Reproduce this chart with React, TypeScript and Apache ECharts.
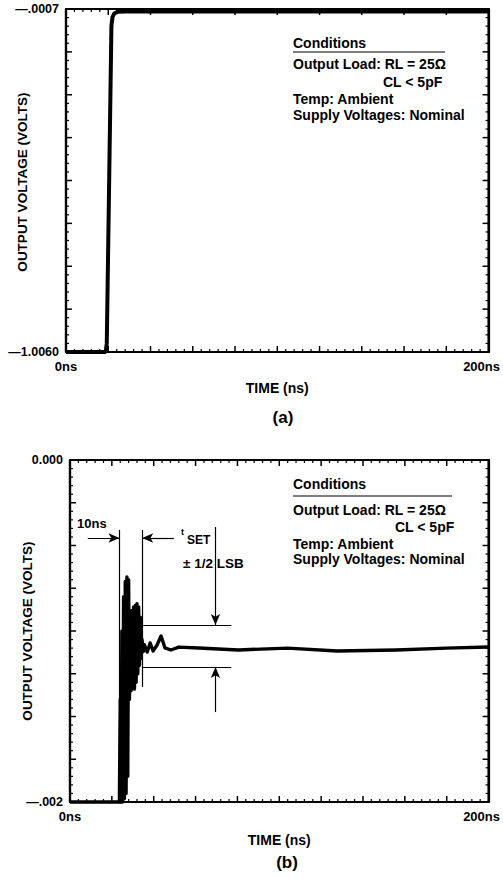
import React, { useEffect, useRef } from "react";
import * as echarts from "echarts";

// ---- Data (a): output voltage step, full scale ----
const timeA = [0, 18.8, 19.3, 21.5, 22.0, 22.8, 24.5, 28, 200];
const voltA = [-1.006, -1.006, -0.98, -0.05, -0.025, -0.014, -0.009, -0.008, -0.008];
const yMinA = -1.006;
const yMaxA = -0.0007;
const yLabelsA = ["—1.0060", "—.0007"];

// ---- Data (b): settling detail ----
const timeB = [
  0, 23.6, 24.0, 24.4, 24.8, 25.2, 25.6, 26.0, 26.4, 26.8, 27.2, 27.6, 28.0, 28.4,
  28.8, 29.2, 29.6, 30.0, 30.4, 30.8, 31.2, 31.6, 32.0, 32.4, 32.8, 33.2, 33.6, 34.0,
  34.4, 35.0, 35.5, 36.9, 38.3, 39.7, 41.6, 43.5, 45.4, 48.2, 52.0, 61.5, 80.4, 104,
  127.7, 156, 179.7, 200,
];
const voltB = [
  -0.002, -0.002, -0.0014, -0.002, -0.001, -0.002, -0.0008, -0.00198, -0.00071, -0.00195,
  -0.000684, -0.00185, -0.0007, -0.0014, -0.0009, -0.00135, -0.00088, -0.00132, -0.00086,
  -0.00134, -0.00085, -0.0013, -0.00084, -0.00125, -0.00086, -0.0012, -0.00092, -0.00116,
  -0.00105, -0.00112, -0.00108, -0.001123, -0.00107, -0.001117, -0.001082, -0.001029,
  -0.001099, -0.001111, -0.001094, -0.001099, -0.001111, -0.0011, -0.001117, -0.001111,
  -0.0011, -0.001094,
];
const yMinB = -0.002;
const yMaxB = 0;
const yLabelsB = ["—.002", "0.000"];

const xMin = 0;
const xMax = 200;
const xMajor = 20;
const minorPerMajor = 5;
const yDivisions = 8;
const xLabels = ["0ns", "200ns"];
const yTitle = "OUTPUT VOLTAGE (VOLTS)";
const xTitle = "TIME (ns)";

// annotation values (b)
const tStart = 23.64;
const tSet = 34.5;
const bandHigh = -0.000965;
const bandLow = -0.00121;
const bandEnd = 77.1;
const arrowT = 69.5;
const arrowRowV = -0.000456;
const vertTopV = -0.000409;

const FONT = "'Liberation Sans', Arial, sans-serif";

function makeAxes(gridIndex: number, yMin: number, yMax: number, yLabels: string[], nameGapX: number) {
  const line = { show: true, onZero: false, lineStyle: { color: "#000", width: 2.2 } };
  const noTick = { show: false };
  const yInterval = (yMax - yMin) / yDivisions;
  const xAxes = [
    {
      type: "value",
      gridIndex,
      position: "bottom",
      min: xMin,
      max: xMax,
      interval: xMajor,
      axisLine: line,
      axisTick: noTick,
      minorTick: noTick,
      splitLine: { show: false },
      name: xTitle,
      nameLocation: "middle",
      nameGap: nameGapX,
      nameTextStyle: { fontFamily: FONT, fontWeight: "bold", fontSize: 14, color: "#000" },
      axisLabel: {
        margin: 8,
        fontFamily: FONT,
        fontWeight: "bold",
        fontSize: 13,
        color: "#000",
        showMinLabel: true,
        showMaxLabel: true,
        formatter: (v: number) => (v === xMin ? "{a|" + xLabels[0] + "}" : v === xMax ? "{b|" + xLabels[1] + "}" : ""),
        rich: {
          a: { fontFamily: FONT, fontWeight: "bold", fontSize: 13, color: "#000" },
          b: { fontFamily: FONT, fontWeight: "bold", fontSize: 13, color: "#000", padding: [0, 14, 0, 0] },
        },
      },
    },
    {
      type: "value",
      gridIndex,
      position: "top",
      min: xMin,
      max: xMax,
      interval: xMajor,
      axisLine: line,
      axisTick: noTick,
      minorTick: noTick,
      splitLine: { show: false },
      axisLabel: { show: false },
    },
  ];
  const yAxes = [
    {
      type: "value",
      gridIndex,
      position: "left",
      min: yMin,
      max: yMax,
      interval: yInterval,
      axisLine: line,
      axisTick: noTick,
      minorTick: noTick,
      splitLine: { show: false },
      axisLabel: {
        margin: 7,
        fontFamily: FONT,
        fontWeight: "bold",
        fontSize: 12.5,
        color: "#000",
        showMinLabel: true,
        showMaxLabel: true,
        formatter: (v: number) => {
          const eps = Math.abs(yMax - yMin) * 1e-3;
          if (Math.abs(v - yMin) < eps) return yLabels[0];
          if (Math.abs(v - yMax) < eps) return yLabels[1];
          return "";
        },
      },
    },
    {
      type: "value",
      gridIndex,
      position: "right",
      min: yMin,
      max: yMax,
      interval: yInterval,
      axisLine: line,
      axisTick: noTick,
      minorTick: noTick,
      splitLine: { show: false },
      axisLabel: { show: false },
    },
  ];
  return { xAxes, yAxes };
}

// Frame and inward ticks, placed through the axes' own scales (api.coord).
function frameSeries(axisIndex: number, yMin: number, yMax: number) {
  return {
    type: "custom",
    coordinateSystem: "cartesian2d",
    xAxisIndex: axisIndex,
    yAxisIndex: axisIndex,
    silent: true,
    clip: false,
    z: 5,
    data: [[xMin, yMin]],
    renderItem: (_params: any, api: any) => {
      const bl = api.coord([xMin, yMin]);
      const tr = api.coord([xMax, yMax]);
      const xl = bl[0], yb = bl[1], xr = tr[0], yt = tr[1];
      const children: any[] = [];
      const ln = (x1: number, y1: number, x2: number, y2: number, w: number) =>
        children.push({ type: "line", shape: { x1, y1, x2, y2 }, style: { stroke: "#000", lineWidth: w } });
      // frame
      ln(xl, yb, xr, yb, 2.2);
      ln(xl, yt, xr, yt, 2.2);
      ln(xl, yb, xl, yt, 2.2);
      ln(xr, yb, xr, yt, 2.2);
      // x ticks (bottom and top)
      const xStep = xMajor / minorPerMajor;
      const nx = Math.round((xMax - xMin) / xStep);
      for (let i = 1; i < nx; i++) {
        const px = api.coord([xMin + i * xStep, yMin])[0];
        const major = i % minorPerMajor === 0;
        const len = major ? 6 : 3;
        const w = major ? 1.5 : 1.2;
        ln(px, yb, px, yb - len, w);
        ln(px, yt, px, yt + len, w);
      }
      // y ticks (left and right)
      const ny = yDivisions * minorPerMajor;
      const yStep = (yMax - yMin) / ny;
      for (let i = 1; i < ny; i++) {
        const py = api.coord([xMin, yMin + i * yStep])[1];
        const major = i % minorPerMajor === 0;
        const len = major ? 6 : 3;
        const w = major ? 1.5 : 1.2;
        ln(xl, py, xl + len, py, w);
        ln(xr, py, xr - len, py, w);
      }
      return { type: "group", children };
    },
  };
}

function txt(text: string, x: number, y: number, size: number, align = "left", weight = "bold", rotation = 0) {
  return {
    type: "text",
    x,
    y,
    rotation,
    silent: true,
    style: {
      text,
      fill: "#000",
      font: `${weight} ${size}px ${FONT}`,
      align,
      verticalAlign: "middle",
    },
  };
}

function conditions(x: number, xCL: number, ys: number[], ulY: number, ulEnd: number) {
  return [
    txt("Conditions", x, ys[0], 14),
    {
      type: "line",
      silent: true,
      shape: { x1: x, y1: ulY, x2: ulEnd, y2: ulY },
      style: { stroke: "#000", lineWidth: 1.2 },
    },
    txt("Output Load: RL = 25Ω", x, ys[1], 14),
    txt("CL < 5pF", xCL, ys[2], 14),
    txt("Temp: Ambient", x, ys[3], 14),
    txt("Supply Voltages: Nominal", x, ys[4], 14),
  ];
}

export default function App() {
  const ref = useRef<HTMLDivElement>(null);
  useEffect(() => {
    if (!ref.current) return;
    const chart = echarts.init(ref.current, null, { renderer: "svg" });
    const a = makeAxes(0, yMinA, yMaxA, yLabelsA, 29);
    const b = makeAxes(1, yMinB, yMaxB, yLabelsB, 31);
    const thin = { color: "#000", width: 1.2, type: "solid" };
    const seg = (x1: number, y1: number, x2: number, y2: number, arrow: boolean) => [
      { coord: [x1, y1], symbol: "none" },
      { coord: [x2, y2], symbol: arrow ? "arrow" : "none", symbolSize: arrow ? [7, 11] : 0 },
    ];
    chart.setOption({
      animation: false,
      backgroundColor: "#fff",
      grid: [
        { left: 66, top: 9, width: 425, height: 343 },
        { left: 70, top: 460, width: 423, height: 342 },
      ],
      xAxis: [...a.xAxes, ...b.xAxes],
      yAxis: [...a.yAxes, ...b.yAxes],
      series: [
        frameSeries(0, yMinA, yMaxA),
        frameSeries(2, yMinB, yMaxB),
        {
          type: "line",
          xAxisIndex: 0,
          yAxisIndex: 0,
          data: timeA.map((t, i) => [t, voltA[i]]),
          symbol: "none",
          clip: false,
          lineStyle: { color: "#000", width: 4 },
        },
        {
          type: "line",
          xAxisIndex: 2,
          yAxisIndex: 2,
          data: timeB.map((t, i) => [t, voltB[i]]),
          symbol: "none",
          clip: false,
          lineStyle: { color: "#000", width: 3.4, join: "round" },
          markLine: {
            silent: true,
            animation: false,
            symbol: ["none", "none"],
            label: { show: false },
            lineStyle: thin,
            data: [
              seg(tStart, vertTopV, tStart, -0.0014, false),
              seg(tSet, vertTopV, tSet, -0.001327, false),
              seg(tSet + 0.5, bandHigh, bandEnd, bandHigh, false),
              seg(tSet, bandLow, bandEnd, bandLow, false),
              seg(arrowT, -0.000392, arrowT, bandHigh, true),
              seg(arrowT, -0.001474, arrowT, bandLow, true),
              seg(8.5, arrowRowV, tStart, arrowRowV, true),
              seg(49.6, arrowRowV, tSet, arrowRowV, true),
            ],
          },
        },
      ],
      graphic: [
        txt(yTitle, 22, 182, 13.5, "center", "bold", Math.PI / 2),
        txt(yTitle, 27, 631, 13.5, "center", "bold", Math.PI / 2),
        ...conditions(293, 383, [43, 64, 82, 99, 115], 52, 445),
        ...conditions(293, 395, [484, 510, 527, 544, 559], 496, 452),
        txt("(a)", 283, 417, 17, "center"),
        txt("(b)", 287, 862, 17, "center"),
        txt("10ns", 77, 523, 13),
        txt("t", 181, 532, 9),
        txt("SET", 187, 540, 12),
        txt("± 1/2 LSB", 183, 563, 13.5),
      ],
    });
    return () => chart.dispose();
  }, []);
  return (
    <div
      ref={ref}
      style={{ position: "absolute", left: 0, top: 0, width: 503, height: 878, background: "#fff" }}
    />
  );
}
